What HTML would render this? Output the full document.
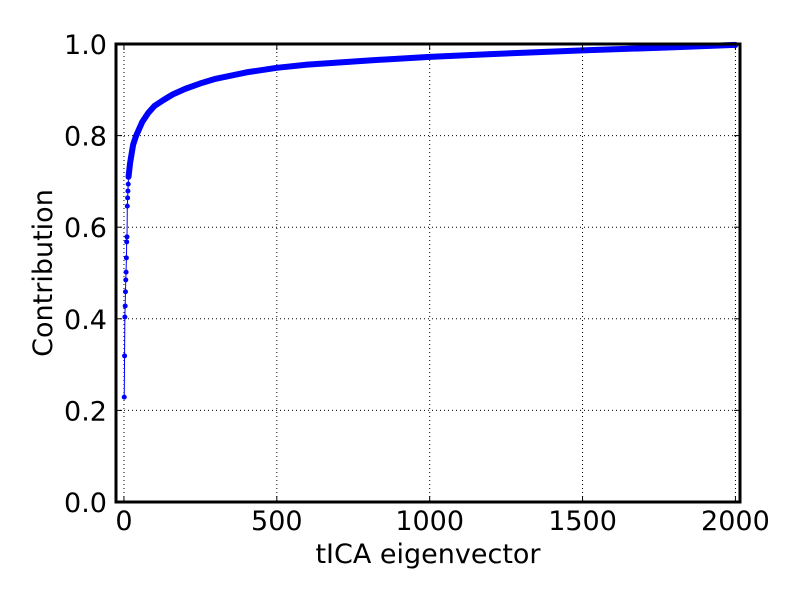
<!DOCTYPE html>
<html><head><meta charset="utf-8"><style>
body{margin:0;background:#fff;}
svg text{font-family:"DejaVu Sans","Liberation Sans",sans-serif;}
</style></head><body>
<svg id="chart" width="800" height="600">
<rect width="800" height="600" fill="#fff"/>
<g id="grid"></g><g id="series"></g><g id="axes"></g>
</svg>
<script>
const earlyX = [1,2,3,4,5,6,7,8,9,10,11,12,13,14,15];
const earlyY = [0.229,0.319,0.404,0.428,0.459,0.485,0.502,0.533,0.568,0.579,0.646,0.664,0.679,0.694,0.71];
const denseX = [15,20,25,30,40,50,60,80,100,130,160,200,250,300,400,500,600,800,1000,1200,1500,1800,2000];
const denseY = [0.71,0.74,0.76,0.78,0.80,0.815,0.83,0.85,0.865,0.878,0.89,0.902,0.914,0.924,0.938,0.948,0.955,0.964,0.972,0.978,0.986,0.993,0.998];
const xTicks = [0,500,1000,1500,2000];
const yTicks = [0.0,0.2,0.4,0.6,0.8,1.0];
const NS="http://www.w3.org/2000/svg";
const L=116,R=740,T=44,B=502,X0=-26,X1=2015;
const sx=v=>L+(v-X0)/(X1-X0)*(R-L);
const sy=v=>B-v*(B-T);
function mk(tag,attrs,parent){const e=document.createElementNS(NS,tag);for(const k in attrs)e.setAttribute(k,attrs[k]);parent.appendChild(e);return e;}
const grid=document.getElementById('grid'),ser=document.getElementById('series'),ax=document.getElementById('axes');
xTicks.forEach(t=>{
 const g=mk('line',{x1:sx(t),x2:sx(t),y1:T,y2:B,stroke:'#000','stroke-width':1,'stroke-dasharray':'1,3'},grid);
 
 
 mk('line',{x1:sx(t),x2:sx(t),y1:B,y2:B-6,stroke:'#000','stroke-width':1},ax);
 mk('line',{x1:sx(t),x2:sx(t),y1:T,y2:T+6,stroke:'#000','stroke-width':1},ax);
 const tx=mk('text',{x:sx(t),y:530,'text-anchor':'middle','font-size':27},ax);
 tx.textContent=t;
 
 
});
yTicks.forEach(t=>{
 const g=mk('line',{x1:L,x2:R,y1:sy(t),y2:sy(t),stroke:'#000','stroke-width':1,'stroke-dasharray':'1,3'},grid);
 
 
 mk('line',{x1:L,x2:L+6,y1:sy(t),y2:sy(t),stroke:'#000','stroke-width':1},ax);
 mk('line',{x1:R,x2:R-6,y1:sy(t),y2:sy(t),stroke:'#000','stroke-width':1},ax);
 const tx=mk('text',{x:107,y:sy(t)+10,'text-anchor':'end','font-size':27},ax);
 tx.textContent=t.toFixed(1);
 
 
});
const thin=mk('polyline',{points:earlyX.map((x,i)=>sx(x)+','+sy(earlyY[i])).join(' '),fill:'none',stroke:'#00f','stroke-width':1},ser);


earlyX.forEach((x,i)=>{
 const c=mk('circle',{cx:sx(x),cy:sy(earlyY[i]),r:2.5,fill:'#00f'},ser);
 
 
});
const thick=mk('polyline',{points:denseX.map((x,i)=>sx(x)+','+sy(denseY[i])).join(' '),fill:'none',stroke:'#00f','stroke-width':6,'stroke-linejoin':'round','stroke-linecap':'round'},ser);


const fr=mk('rect',{x:L,y:T,width:R-L,height:B-T,fill:'none',stroke:'#000','stroke-width':3},ax);


const xl=mk('text',{x:428,y:563,'text-anchor':'middle','font-size':27},ax);
xl.textContent='tICA eigenvector';


const yl=mk('text',{x:52,y:273,'text-anchor':'middle','font-size':27,transform:'rotate(-90 52 273)'},ax);
yl.textContent='Contribution';


</script>
</body></html>
